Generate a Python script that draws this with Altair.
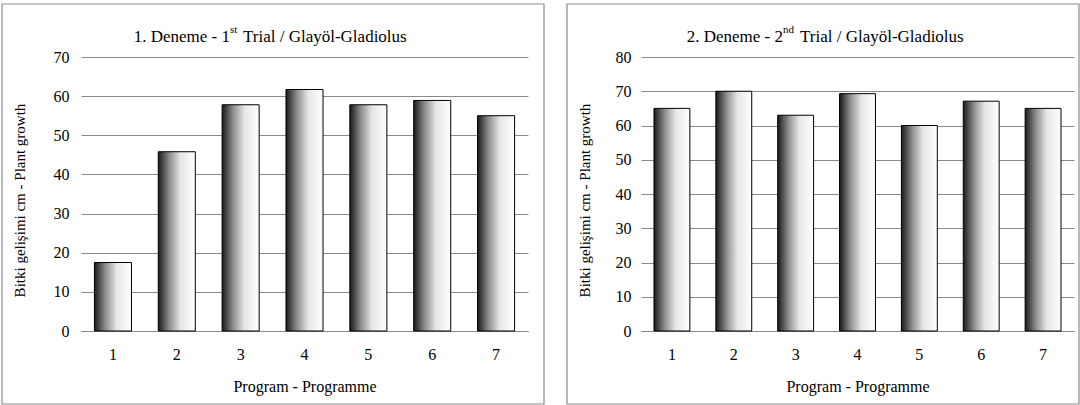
import altair as alt
import pandas as pd

# Plant growth (cm) per programme, two trials on gladiolus
programmes = ["1", "2", "3", "4", "5", "6", "7"]
trial1_growth = [17.5, 45.8, 57.8, 61.7, 57.8, 58.9, 55.0]
trial2_growth = [65.0, 70.0, 63.0, 69.3, 60.0, 67.1, 65.0]

FONT = "'Liberation Serif', 'Times New Roman', serif"
FS = 16
PLOT_H = 274
Y_TITLE = "Bitki gelişimi cm - Plant growth"
X_TITLE = "Program - Programme"

# dark-to-white horizontal shading used on every bar
bar_fill = alt.Gradient(
    gradient="linear",
    stops=[
        alt.GradientStop(color="#1a1a1a", offset=0),
        alt.GradientStop(color="#8e8e8e", offset=0.3),
        alt.GradientStop(color="#e6e6e6", offset=0.6),
        alt.GradientStop(color="#ffffff", offset=1),
    ],
    x1=0, x2=1, y1=0, y2=0,
)

one_row = pd.DataFrame({"k": [0]})


def panel(values, ymax, width, head, sup, tail, sup_x, sup_w, box, ytitle_x, ylabel_pad):
    df = pd.DataFrame({"Program": programmes, "growth": values})
    bars = alt.Chart(df).mark_bar(
        color=bar_fill, stroke="black", strokeWidth=1
    ).encode(
        x=alt.X(
            "Program:N",
            sort=programmes,
            scale=alt.Scale(paddingInner=0.42, paddingOuter=0.21),
            axis=alt.Axis(
                title=X_TITLE, labelAngle=0, ticks=False, domain=True,
                domainColor="#8a8a8a", grid=False,
                labelFont=FONT, labelFontSize=FS, labelColor="black",
                labelPadding=15, labelBaseline="top",
                titleFont=FONT, titleFontSize=FS, titleFontWeight="normal",
                titleColor="black", titleY=55, titleBaseline="middle",
            ),
        ),
        y=alt.Y(
            "growth:Q",
            scale=alt.Scale(domain=[0, ymax], nice=False),
            axis=alt.Axis(
                title=Y_TITLE, values=list(range(0, ymax + 1, 10)),
                grid=True, gridColor="#8a8a8a", domain=False, ticks=False,
                labelFont=FONT, labelFontSize=FS, labelColor="black",
                labelPadding=ylabel_pad,
                titleFont=FONT, titleFontSize=15, titleFontWeight="normal",
                titleColor="black", titleAngle=-90, titleX=ytitle_x,
                titleY=PLOT_H / 2 + 6, titleAlign="center",
                titleBaseline="middle",
            ),
        ),
    )

    # panel frame
    frame = alt.Chart(one_row).mark_rect(
        fillOpacity=0, stroke="#8c8c8c", strokeWidth=1.2
    ).encode(
        x=alt.value(box[0]), x2=alt.value(box[1]),
        y=alt.value(box[2]), y2=alt.value(box[3]),
    )

    # chart heading with a superscript ordinal
    text_style = dict(font=FONT, fontSize=17, color="black", baseline="middle")
    t_head = alt.Chart(one_row).mark_text(align="right", **text_style).encode(
        x=alt.value(sup_x), y=alt.value(-20), text=alt.value(head))
    t_sup = alt.Chart(one_row).mark_text(
        align="left", font=FONT, fontSize=11, color="black", baseline="middle"
    ).encode(x=alt.value(sup_x), y=alt.value(-27), text=alt.value(sup))
    t_tail = alt.Chart(one_row).mark_text(align="left", **text_style).encode(
        x=alt.value(sup_x + sup_w), y=alt.value(-20), text=alt.value(tail))

    return alt.layer(frame, bars, t_head, t_sup, t_tail).properties(
        width=width, height=PLOT_H)


left = panel(trial1_growth, 70, 447, "1. Deneme - 1", "st",
             "Trial / Glayöl-Gladiolus", 149, 13,
             (-79, 463, -53, 347), -62, 12)
right = panel(trial2_growth, 80, 433, "2. Deneme - 2", "nd",
              "Trial / Glayöl-Gladiolus", 142, 17,
              (-74, 438, -53, 347), -57, 10)

chart = alt.hconcat(left, right, spacing=113, bounds="flush").properties(
    padding={"left": 1, "top": 3, "right": 0, "bottom": 0},
    background="white",
).configure_view(strokeOpacity=0)

chart.save("out.html", embed_options={"renderer": "svg", "actions": False})
